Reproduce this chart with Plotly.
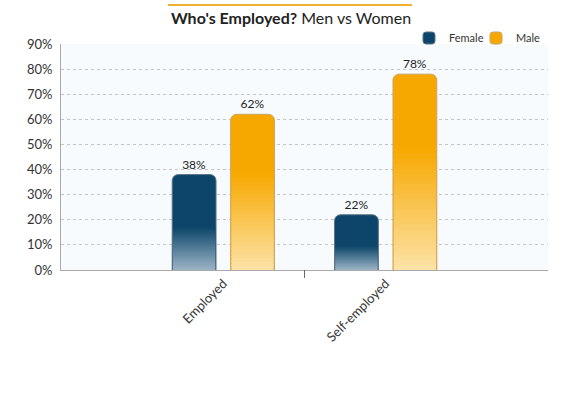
import plotly.graph_objects as go

categories = ["Employed", "Self-employed"]
female = [38, 22]
male = [62, 78]
series_names = ["Female", "Male"]
y_ticks = [0, 10, 20, 30, 40, 50, 60, 70, 80, 90]
y_ticklabels = [f"{v}%" for v in y_ticks]

FONT = "Lato, 'Open Sans', sans-serif"
TEXT = "#333333"

def hex2rgb(h):
    h = h.lstrip("#")
    return tuple(int(h[i:i + 2], 16) for i in (0, 2, 4))

def mix(c1, c2, t):
    a, b = hex2rgb(c1), hex2rgb(c2)
    return "rgb(%d,%d,%d)" % tuple(round(a[i] + (b[i] - a[i]) * t) for i in range(3))

specs = [
    # name, values, top color, bottom color, gradient fraction, offset, border, legend id
    ("Female", female, "#0c4569", "#9cb4c5", 0.45, -0.315, "#5d7486", "legend"),
    ("Male", male, "#f7a800", "#fce3a8", 0.62, 0.045, "#c9a56a", "legend2"),
]
WIDTH = 0.27
STEPS = 24

fig = go.Figure()
for name, vals, top, bot, frac, off, border, lg in specs:
    fig.add_trace(go.Bar(
        x=categories, y=vals, name=name, legend=lg,
        marker=dict(color=top, line=dict(color=border, width=1), cornerradius=6),
        offset=off, width=WIDTH,
        text=[f"{v}%" for v in vals], textposition="outside",
        textfont=dict(family=FONT, size=12, color="#222222"),
        cliponaxis=False,
    ))
for name, vals, top, bot, frac, off, border, lg in specs:
    for k in range(STEPS):
        t = k / STEPS
        base = [v * frac * t for v in vals]
        h = [v * frac / STEPS * 1.5 for v in vals]
        col = mix(bot, top, (k + 0.5) / STEPS)
        fig.add_trace(go.Bar(
            x=categories, y=h, base=base, showlegend=False,
            marker=dict(color=col, line=dict(width=0)),
            offset=off + 0.005, width=WIDTH - 0.01, hoverinfo="skip",
        ))

L, T, PW, PH = 61, 44, 487, 226
W, H = 580, 394

legend_common = dict(orientation="h", yanchor="middle", xanchor="left",
                     font=dict(family=FONT, size=11, color=TEXT),
                     bgcolor="rgba(0,0,0,0)", itemwidth=30)

fig.update_layout(
    width=W, height=H,
    margin=dict(l=L, r=W - L - PW, t=T, b=H - T - PH, autoexpand=False),
    barmode="overlay",
    paper_bgcolor="white",
    plot_bgcolor="#f7fbfe",
    font=dict(family=FONT, color=TEXT),
    showlegend=True,
    legend=dict(x=(409 - L) / PW, y=1 + 6 / PH, **legend_common),
    legend2=dict(x=(476 - L) / PW, y=1 + 6 / PH, **legend_common),
    title=dict(text="<b>Who's Employed?</b> Men vs Women", x=(291 - L) / PW, xref="paper",
               xanchor="center", y=1 - 18 / H, yanchor="middle",
               font=dict(family=FONT, size=16, color="#222222")),
    xaxis=dict(type="category", range=[-1, 2], showgrid=False, ticks="",
               tickangle=-45, tickfont=dict(family=FONT, size=13, color=TEXT),
               showline=True, linecolor="#aaaaaa", linewidth=1, zeroline=False),
    yaxis=dict(range=[0, 90], tickvals=y_ticks, ticktext=y_ticklabels,
               showgrid=True, gridcolor="#c4c4c4", griddash="dot", gridwidth=1,
               showline=True, linecolor="#aaaaaa", linewidth=1, zeroline=False,
               tickfont=dict(family=FONT, size=13, color=TEXT),
               ticks="outside", ticklen=5, tickcolor="rgba(0,0,0,0)"),
    shapes=[
        dict(type="line", xref="x", yref="paper", x0=0.5, x1=0.5, y0=0, y1=-0.035,
             line=dict(color="#666666", width=1)),
        dict(type="line", xref="paper", yref="paper", x0=(168 - L) / PW, x1=(412 - L) / PW,
             y0=1 + (T - 5) / PH, y1=1 + (T - 5) / PH, line=dict(color="#f0b030", width=2)),
    ],
)

fig.write_html("out.html", config={"displayModeBar": False},
               post_script="document.body.style.margin='0';")
